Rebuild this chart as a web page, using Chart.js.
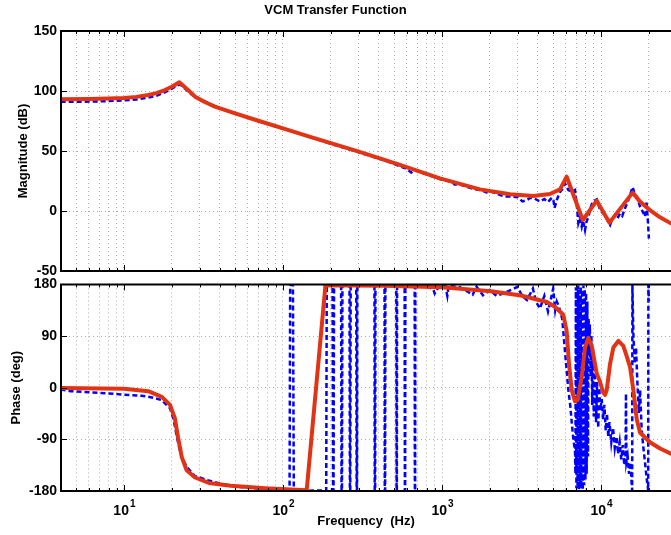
<!DOCTYPE html>
<html>
<head>
<meta charset="utf-8">
<script src="https://cdn.jsdelivr.net/npm/chart.js@4.4.0/dist/chart.umd.min.js"></script>
<style>
  html, body { margin: 0; padding: 0; background: #fff; }
  #wrap { position: relative; width: 671px; height: 535px; overflow: hidden; }
  #magCanvas { position: absolute; left: 0; top: 0; }
  #phaseCanvas { position: absolute; left: 0; top: 272px; }
</style>
</head>
<body>
<div id="wrap">
  <canvas id="magCanvas" width="671" height="285"></canvas>
  <canvas id="phaseCanvas" width="671" height="263"></canvas>
</div>
<script>
// model (red) magnitude
const magModelFreq = [4, 6, 8, 10, 12, 14.2, 16, 18.1, 20, 22.3, 25, 28, 32, 37.3, 50, 70, 100, 150, 200, 300, 544, 970, 1733, 2680, 3750, 4770, 5520, 6080, 7680, 9400, 11300, 15800, 17580, 20300, 23500, 27500];
const magModel = [93.1, 93.3, 93.7, 94.2, 95.1, 96.7, 98.2, 100.8, 103.6, 107.3, 101.5, 95.3, 91.0, 87.0, 81.4, 75.2, 68.8, 61.6, 56.5, 49.5, 38.5, 27.2, 18.0, 13.9, 12.5, 14.2, 18.0, 28.6, -7.5, 8.6, -9.7, 15.3, 7.8, 0.8, -5.3, -10.3];

// measured (blue) magnitude
const magMeasFreq = [4, 5, 6.5, 8, 10, 12, 14, 16, 18, 20, 21.5, 22.5, 24, 27, 32, 40, 55, 80, 120, 200, 300, 450, 600, 640, 680, 800, 1000, 1150, 1200, 1300, 1560, 1800, 1900, 2000, 2300, 2500, 2700, 3000, 3200, 3400, 3600, 3800, 4130, 4400, 4640, 4900, 5020, 5100, 5300, 5520, 5700, 5940, 6230, 6540, 6860, 7030, 7200, 7350, 7560, 7700, 7930, 8100, 8320, 8600, 8870, 9400, 9860, 10300, 10600, 11000, 11400, 11800, 12240, 12700, 13170, 13600, 14150, 14860, 15800, 16300, 16800, 17600, 18200, 18900, 19300, 19700, 20000];
const magMeas = [91, 91, 91.2, 91.6, 92.2, 93, 94.3, 96, 98.8, 102, 104.5, 105.5, 102.5, 96.5, 91.5, 85.5, 79.5, 72.5, 65.5, 56, 49, 41.5, 35, 32, 34, 30.5, 26, 24.5, 22, 22, 18.5, 17, 15.5, 16.5, 13.5, 12, 12, 11.5, 8, 9, 11, 10.5, 8, 10, 7.5, 11, 9, 2.5, 10, 16, 18, 23, 17.5, 16, 17.5, 6, -10, -6, -13, -8, -16, -9, -5, 3, 7.8, 9.7, 0.8, -2, -3.3, -8, -11.7, -6, -3.3, -6, -2, -4, 2.2, 9.2, 20, 14, 12, 3.6, 0, -4.7, 8, -8, -23];

// model (red) phase
const phaseModelFreq = [4, 10, 14.2, 17.3, 19.5, 20.9, 21.9, 23.1, 24.8, 28, 34.2, 47, 77, 141, 185, 434, 1000, 2036, 3140, 4560, 5130, 5790, 6080, 6290, 6540, 6860, 7140, 7560, 7930, 8320, 8740, 9400, 9860, 10300, 10600, 10860, 11400, 11950, 12850, 13800, 14500, 15220, 15970, 16770, 17580, 20300, 23500, 27500];
const phaseModel = [-0.5, -2, -6, -16, -30, -53, -87, -121, -144, -156.5, -166, -171, -175, -178.6, 178.5, 177.7, 175, 168, 160.6, 149.3, 141, 127, 98.6, 41.7, -4, -24, -21, 18.8, 70, 87, 73, 24.6, 10, -8, -12.5, -4, 41.7, 70, 81.5, 73, 55, 36, -4, -55, -78, -95, -106, -115];

// measured (blue) phase
const phaseMeasFreq = [4, 4.6, 6, 8, 9.7, 12.9, 15, 17.3, 19.5, 20.5, 21.5, 22.5, 23.5, 24.8, 26.7, 28, 33.6, 40, 50, 65, 80, 100,
  110, 111, 115.5, 117, 140, 160, 187, 188.5,
  205, 206.5, 208, 209.5, 232, 233.5, 235, 236.5, 262, 263.5, 265, 266.5, 289, 290.5, 292, 293.5,
  376, 377.5, 380, 381.5, 435, 436.5, 439, 440.5, 516, 518, 520, 522, 582, 584, 586, 588, 673, 675, 678, 680,
  720, 800, 880, 900, 950, 1050, 1080, 1100, 1290, 1400, 1560, 1650, 1810, 2000, 2200, 2420, 2700, 2970, 3200, 3420, 3730, 3900,
  4130, 4400, 4640, 4800, 5000, 5150, 5270, 5450, 5700, 5950, 6230, 6400, 6540, 6700, 6860, 6900,
  6950, 7000, 7060, 7120, 7180, 7250, 7320, 7380, 7450, 7520, 7600, 7680, 7750, 7820, 7900, 7980, 8050, 8120, 8200, 8280, 8350,
  8420, 8500, 8600, 8700, 8800, 8900, 9000, 9150, 9300, 9450, 9600, 9750, 9900,
  10100, 10300, 10500, 10700, 10900, 11100, 11300, 11600, 11900, 12200, 12500, 12800, 13100, 13400, 13700, 14000,
  14250, 14350, 14450, 14700, 15000, 15300, 15600, 15700, 15750, 15900, 16000, 16300, 16600, 16900, 17300, 17600,
  18000, 18400, 18900, 19400, 19800, 19850, 20000];
const phaseMeas = [-3, -6, -8, -10, -12, -14, -17, -21.6, -36, -55, -85, -110, -125, -138, -148, -154, -161, -167, -172, -175, -177, -178,
  -179, 179, 179, -179, -179.5, -179, -179.5, 179,
  179.5, -179, -179, 179, 179.5, -179, -179, 179, 179, -179, -179, 179, 179, -179, -179, 179,
  179, -179, -179, 179, 179, -179, -179, 179, 179, -179, -179, 179, 179, -179, -179, 179, 179, -179, -179, 179,
  178, 176, 172, 164, 175, 177, 160, 177, 175.5, 170, 162, 176, 161, 170, 160, 164, 170, 175.5, 160, 152.7, 172.6, 150,
  138, 160, 132.8, 150, 172.6, 135, 150, 140, 120, 60, -4, -30, -60, -90, -110, -150,
  175, -175, 175, -170, 178, -178, 160, -165, 176, -176, 170, -178, 178, -170, 172, -160, 165, -150, 150, -120, 120,
  60, 110, 20, 90, -30, 70, -50, 40, -60, 10, -70, 0, -40,
  -20, -55, -30, -75, -45, -85, -60, -95, -70, -105, -85, -115, -95, -125, -100, -135,
  -125, -10, -130, -120, -150, -130, -170, -179, 179, 120, 87, 42, 70, 13, -44, -4,
  -72, -101, -130, -160, -179, 179, 150];

// axis ticks
const magTicks = { min: -50, max: 150, step: 50 };
const phaseTicks = { min: -180, max: 180, step: 90 };
const decades = [1, 10, 100, 1000, 10000];
const decadeLabels = [10, 100, 1000, 10000];
const decadeExps = ['1', '2', '3', '4'];
const freqMin = 4.02;
const freqMax = 27540;

const redColor = 'rgb(226, 52, 20)';
const blueColor = 'rgb(0, 0, 255)';
const fontFamily = '"Liberation Sans", Arial, Helvetica, sans-serif';

Chart.defaults.font.family = fontFamily;
Chart.defaults.color = '#000';

function toPoints(xs, ys) {
    return xs.map((x, i) => ({ x: x, y: ys[i] }));
}

function buildLogTicks(scale) {
    const ticks = [];
    decades.forEach(d => {
        for (let m = 1; m <= 9; m++) {
            const v = d * m;
            if (v >= freqMin && v <= freqMax) ticks.push({ value: v, major: m === 1 });
        }
    });
    scale.ticks = ticks;
}

// box + inner tick marks, like matlab axes
const framePlugin = {
    id: 'frame',
    afterDraw(chart) {
        const { ctx, chartArea: a, scales } = chart;
        ctx.save();
        ctx.strokeStyle = '#000';
        ctx.lineWidth = 1;
        scales.x.ticks.forEach(t => {
            const px = Math.round(scales.x.getPixelForValue(t.value)) + 0.5;
            const len = t.major ? 6 : 3;
            ctx.beginPath();
            ctx.moveTo(px, a.top);
            ctx.lineTo(px, a.top + len);
            ctx.moveTo(px, a.bottom);
            ctx.lineTo(px, a.bottom - len);
            ctx.stroke();
        });
        scales.y.ticks.forEach(t => {
            const py = Math.round(scales.y.getPixelForValue(t.value)) + 0.5;
            ctx.beginPath();
            ctx.moveTo(a.left, py);
            ctx.lineTo(a.left + 6, py);
            ctx.stroke();
        });
        ctx.lineWidth = 2;
        ctx.beginPath();
        ctx.moveTo(a.right + 5, a.top);
        ctx.lineTo(a.left, a.top);
        ctx.lineTo(a.left, a.bottom);
        ctx.lineTo(a.right + 5, a.bottom);
        ctx.stroke();
        ctx.restore();
    }
};

// 10^n labels under the phase plot
const decadeLabelPlugin = {
    id: 'decadeLabels',
    afterDraw(chart) {
        const { ctx, chartArea: a, scales: { x } } = chart;
        ctx.save();
        ctx.fillStyle = '#000';
        ctx.textBaseline = 'alphabetic';
        decadeLabels.forEach((v, i) => {
            const px = x.getPixelForValue(v);
            ctx.font = 'bold 14px ' + fontFamily;
            ctx.textAlign = 'right';
            ctx.fillText('10', px + 5, a.bottom + 24);
            ctx.font = 'bold 10px ' + fontFamily;
            ctx.textAlign = 'left';
            ctx.fillText(decadeExps[i], px + 6, a.bottom + 16);
        });
        ctx.restore();
    }
};

function xScale(height, showTitle) {
    return {
        type: 'logarithmic',
        min: freqMin,
        max: freqMax,
        afterBuildTicks: buildLogTicks,
        afterFit: s => { s.height = height; },
        ticks: { display: false },
        grid: { color: 'rgba(0,0,0,0.32)', lineWidth: 1, drawTicks: false },
        border: { display: false, dash: [1, 3] },
        title: {
            display: showTitle,
            text: 'Frequency  (Hz)',
            font: { size: 13, weight: 'bold' },
            padding: { top: 0, bottom: 6 }
        }
    };
}

function yScale(t, label, titlePad) {
    return {
        min: t.min,
        max: t.max,
        afterFit: s => { s.width = 61; },
        ticks: { stepSize: t.step, font: { size: 14, weight: 'bold' }, padding: 4 },
        grid: { color: 'rgba(0,0,0,0.32)', lineWidth: 1, drawTicks: false },
        border: { display: false, dash: [1, 3] },
        title: {
            display: true,
            text: label,
            font: { size: 13, weight: 'bold' },
            padding: { top: titlePad, bottom: 0 }
        }
    };
}

function lineSets(modelPts, measPts) {
    return [
        {
            label: 'model',
            data: modelPts,
            borderColor: redColor,
            borderWidth: 4,
            borderJoinStyle: 'round',
            borderCapStyle: 'round',
            pointRadius: 0,
            tension: 0
        },
        {
            label: 'measured',
            data: measPts,
            borderColor: blueColor,
            borderWidth: 2.5,
            borderDash: [5, 3],
            pointRadius: 0,
            tension: 0
        }
    ];
}

new Chart(document.getElementById('magCanvas'), {
    type: 'line',
    data: { datasets: lineSets(toPoints(magModelFreq, magModel), toPoints(magMeasFreq, magMeas)) },
    options: {
        responsive: false,
        animation: false,
        layout: { padding: { left: 0, right: 0, top: 0, bottom: 0 } },
        plugins: {
            legend: { display: false },
            tooltip: { enabled: false },
            title: {
                display: true,
                text: 'VCM Transfer Function',
                font: { size: 13, weight: 'bold' },
                padding: { top: 3, bottom: 12.4 }
            }
        },
        scales: {
            x: xScale(14, false),
            y: yScale(magTicks, 'Magnitude (dB)', 16)
        }
    },
    plugins: [framePlugin]
});

new Chart(document.getElementById('phaseCanvas'), {
    type: 'line',
    data: { datasets: lineSets(toPoints(phaseModelFreq, phaseModel), toPoints(phaseMeasFreq, phaseMeas)) },
    options: {
        responsive: false,
        animation: false,
        layout: { padding: { left: 0, right: 0, top: 9, bottom: 0 } },
        plugins: {
            legend: { display: false },
            tooltip: { enabled: false }
        },
        scales: {
            x: xScale(44, true),
            y: yScale(phaseTicks, 'Phase (deg)', 9)
        }
    },
    plugins: [framePlugin, decadeLabelPlugin]
});
</script>
</body>
</html>
